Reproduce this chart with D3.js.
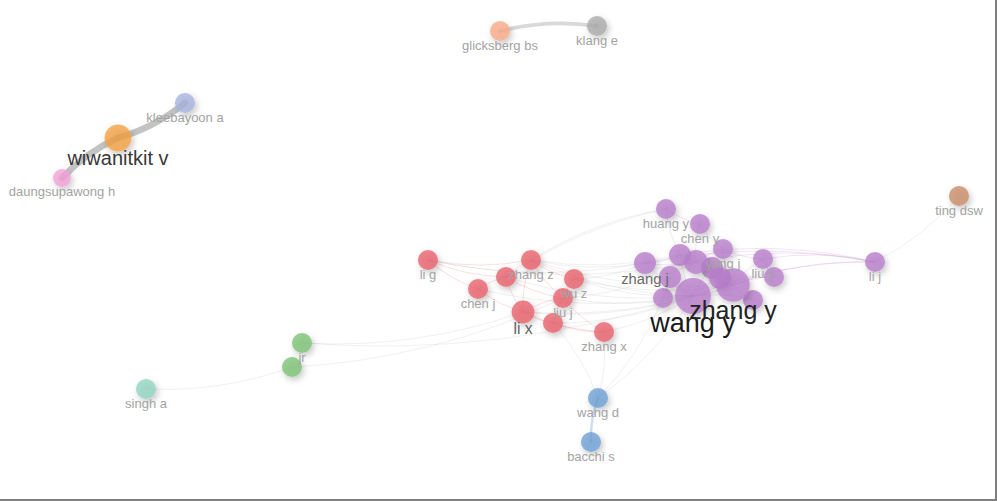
<!DOCTYPE html>
<html>
<head>
<meta charset="utf-8">
<script src="https://cdn.jsdelivr.net/npm/d3@7"></script>
<style>
  html, body { margin: 0; padding: 0; background: #fff; }
  svg { display: block; }
</style>
</head>
<body>
<div id="chart"><svg></svg></div>
<script>
// co-authorship map, map coordinates (x 0-100, y 0-50)
const labels = [
  "huang y", "chen y", "yang j", "liu y", "", "zhang j", "", "", "", "",
  "wang y", "zhang y", "", "", "li j", "",
  "li g", "zhang z", "", "chen j", "wu z", "liu j", "li x", "", "zhang x",
  "jr", "", "wang d", "bacchi s", "singh a",
  "wiwanitkit v", "kleebayoon a", "daungsupawong h", "glicksberg bs", "klang e", "ting dsw"
]
const mapX = [
  66.6, 70.0, 72.3, 76.3, 77.4, 64.5, 68.0, 69.6, 71.2, 67.0,
  69.3, 73.3, 66.3, 75.3, 87.5, 72.0,
  42.8, 53.1, 50.6, 47.8, 57.4, 56.3, 52.3, 55.3, 60.4,
  30.2, 29.2, 59.8, 59.1, 14.6,
  11.8, 18.5, 6.2, 50.0, 59.7, 95.9
]
const mapY = [
  20.9, 22.4, 24.9, 25.9, 27.7, 26.3, 25.5, 26.2, 26.8, 27.7,
  29.6, 28.5, 29.8, 30.0, 26.2, 27.8,
  26.0, 26.0, 27.7, 28.9, 27.9, 29.8, 31.2, 32.3, 33.2,
  34.3, 36.7, 39.8, 44.2, 38.9,
  13.8, 10.3, 17.8, 3.1, 2.6, 19.6
]
const docs = [
  5, 5, 5, 5, 5, 6, 6, 7, 6, 6,
  16, 14, 5, 5, 5, 6,
  5, 5, 5, 5, 5, 5, 6.5, 5, 5,
  5, 5, 5, 5, 5,
  9, 5, 4, 5, 5, 5
]
const clusters = [
  0, 0, 0, 0, 0, 0, 0, 0, 0, 0,
  0, 0, 0, 0, 0, 0,
  1, 1, 1, 1, 1, 1, 1, 1, 1,
  2, 2, 3, 3, 4,
  5, 6, 7, 8, 9, 10
]
const clusterColors = [
  "#b77ccb", "#e9606a", "#7cc174", "#6d9fd4", "#8fd5c0",
  "#f4a142", "#a8b2de", "#f3a0d6", "#f8ab88", "#ababab", "#c98a66"
]
// [source, target, strength]
const links = [
  [16, 17, 1], [16, 19, 1], [16, 18, 1], [17, 18, 1], [17, 20, 1], [17, 21, 1],
  [17, 22, 1], [18, 19, 1], [18, 22, 1], [18, 21, 1], [19, 22, 1], [20, 21, 1],
  [21, 22, 1], [21, 23, 1], [22, 23, 1], [22, 24, 1], [21, 24, 1], [23, 24, 1],
  [16, 5, 1], [16, 7, 1], [17, 5, 1], [17, 10, 1], [17, 6, 1], [18, 10, 1],
  [20, 10, 1], [20, 5, 1], [21, 10, 1], [22, 10, 1], [22, 11, 1], [24, 10, 1],
  [23, 10, 1], [19, 10, 1], [17, 11, 1], [20, 11, 1], [21, 7, 1], [0, 17, 1], [0, 18, 1],
  [0, 1, 1], [0, 6, 1], [1, 2, 1], [1, 7, 1], [2, 3, 1], [2, 11, 1], [3, 4, 1],
  [3, 11, 1], [4, 11, 1], [5, 6, 1], [5, 10, 1], [5, 7, 1], [6, 7, 1], [7, 8, 1],
  [8, 10, 1], [8, 11, 1], [9, 10, 1], [10, 11, 1], [10, 12, 1], [11, 13, 1],
  [12, 9, 1], [15, 10, 1], [15, 11, 1], [2, 7, 1], [6, 10, 1], [13, 10, 1],
  [14, 3, 1], [14, 11, 1], [14, 10, 1], [14, 7, 1], [14, 5, 1], [14, 6, 1],
  [14, 35, 1],
  [25, 22, 1], [26, 21, 1], [25, 10, 1], [29, 26, 1],
  [27, 24, 1], [27, 23, 1], [27, 10, 1], [27, 12, 1], [27, 28, 2],
  [30, 31, 5], [30, 32, 5], [34, 33, 3]
]

const width = 997
const height = 501

const svg = d3.select("#chart").select("svg")
  .attr("width", width)
  .attr("height", height)

const defs = svg.append("defs")
const shadow = defs.append("filter")
  .attr("id", "shadow")
  .attr("x", "-60%").attr("y", "-60%")
  .attr("width", "220%").attr("height", "220%")
shadow.append("feDropShadow")
  .attr("dx", 2).attr("dy", 3)
  .attr("stdDeviation", 3)
  .attr("flood-color", "#000")
  .attr("flood-opacity", 0.28)

const x = d3.scaleLinear().domain([0, 100]).range([0, 1000])
const y = d3.scaleLinear().domain([0, 50]).range([0, 500])
const r = d3.scaleSqrt().domain([0, 16]).range([0, 18])
const fontSize = d3.scaleLinear().domain([5, 9, 16]).range([13, 20, 27]).clamp(true)
const labelColor = d3.scaleLinear().domain([5, 6, 9, 16]).range(["#a3a3a3", "#6a6a6a", "#383838", "#1a1a1a"]).clamp(true)
const linkWidth = d3.scaleLinear().domain([1, 5]).range([1, 6.5])
const linkOpacity = d3.scaleLinear().domain([1, 5]).range([0.2, 0.8])

const nodes = labels.map((label, i) => ({
  label: label,
  x: x(mapX[i]),
  y: y(mapY[i]),
  r: r(docs[i]),
  docs: docs[i],
  color: clusterColors[clusters[i]],
  cluster: clusters[i]
}))

const curve = (l) => {
  const s = nodes[l[0]]
  const t = nodes[l[1]]
  const dx = t.x - s.x
  const dy = t.y - s.y
  const cx = (s.x + t.x) / 2 - dy * 0.1
  const cy = (s.y + t.y) / 2 + dx * 0.1
  return `M${s.x},${s.y} Q${cx},${cy} ${t.x},${t.y}`
}

svg.append("g")
  .selectAll("path")
  .data(links)
  .join("path")
  .attr("d", curve)
  .attr("fill", "none")
  .attr("stroke", (l) => nodes[l[0]].cluster === nodes[l[1]].cluster ? nodes[l[0]].color : "#b4b4b4")
  .attr("stroke-width", (l) => linkWidth(l[2]))
  .attr("stroke-opacity", (l) => linkOpacity(l[2]))
  .attr("stroke-linecap", "round")

const order = d3.range(nodes.length).sort((a, b) => docs[a] - docs[b])

svg.append("g")
  .selectAll("circle")
  .data(order.map((i) => nodes[i]))
  .join("circle")
  .attr("cx", (d) => d.x)
  .attr("cy", (d) => d.y)
  .attr("r", (d) => d.r)
  .attr("fill", (d) => d.color)
  .attr("fill-opacity", 0.78)
  .attr("filter", "url(#shadow)")

svg.append("g")
  .selectAll("text")
  .data(nodes.filter((d) => d.label !== ""))
  .join("text")
  .attr("x", (d) => d.x)
  .attr("y", (d) => d.y + d.r + fontSize(d.docs) * 0.68)
  .attr("text-anchor", "middle")
  .attr("font-family", "Liberation Sans, Arial, sans-serif")
  .attr("font-size", (d) => fontSize(d.docs))
  .attr("fill", (d) => labelColor(d.docs))
  .text((d) => d.label)

// frame on the right and bottom edges
svg.append("line")
  .attr("x1", width - 1).attr("x2", width - 1)
  .attr("y1", 0).attr("y2", height)
  .attr("stroke", "#7f7f7f").attr("stroke-width", 2)
svg.append("line")
  .attr("x1", 0).attr("x2", width)
  .attr("y1", height - 1).attr("y2", height - 1)
  .attr("stroke", "#7f7f7f").attr("stroke-width", 2)
</script>
</body>
</html>
